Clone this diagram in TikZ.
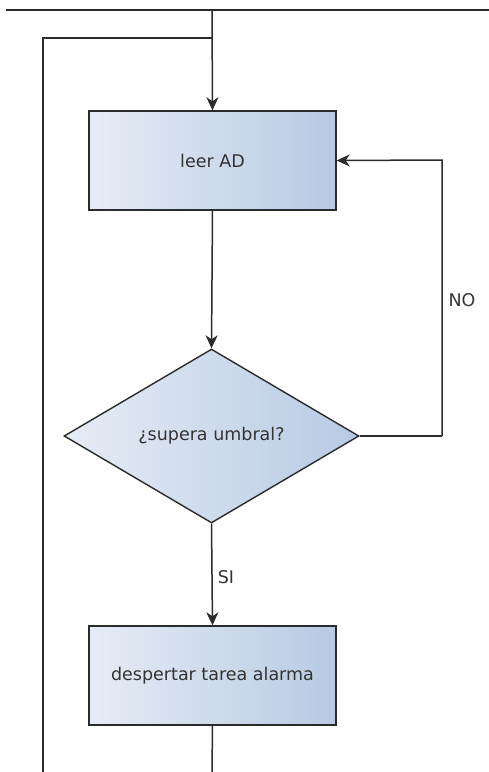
\documentclass[tikz,border=0pt]{standalone}
\usepackage{fontspec}
\setmainfont{DejaVu Sans}
\usetikzlibrary{shapes.geometric,arrows.meta}
\definecolor{lineC}{HTML}{2B2B2B}
\definecolor{fillL}{HTML}{E6ECF5}
\definecolor{fillR}{HTML}{B7CAE3}
\definecolor{txtC}{HTML}{333333}
\begin{document}
\begin{tikzpicture}[x=1pt,y=-1pt,
  conn/.style={draw=lineC,line width=1.5pt},
  arr/.style={conn,-{Stealth[length=13pt,width=12pt,inset=4pt]}},
  procbox/.style={draw=lineC,line width=1.4pt,minimum width=247pt,minimum height=99pt,
     left color=fillL,right color=fillR,inner sep=0pt,text=txtC,font=\fontsize{17.5}{20}\selectfont},
  decision/.style={diamond,draw=lineC,line width=1.4pt,minimum width=295pt,minimum height=174pt,
     inner sep=0pt,left color=fillL,right color=fillR,text=txtC,font=\fontsize{17.5}{20}\selectfont},
  lbl/.style={text=txtC,font=\fontsize{17.5}{20}\selectfont,inner sep=0pt}]
\useasboundingbox (0,0) rectangle (489,772);
\fill[white] (0,0) rectangle (489,772);
\coordinate (tl) at (6,10);
\coordinate (tr) at (489,10);
\coordinate (tm) at (212,10);
\coordinate (jn) at (212,38);
\coordinate (lt) at (43,38);
\coordinate (lb) at (43,772);
\coordinate (rb) at (442,436);
\coordinate (rt) at (442,160);
\coordinate (bb) at (212,772);
\node[procbox] (leer) at (212.5,160.5) {leer AD};
\node[decision,shape aspect=1.7] (dec) at (211.5,436) {¿supera umbral?};
\node[procbox] (desp) at (212.5,675.5) {despertar tarea alarma};
\node[lbl] (no) at (462,300) {NO};
\node[lbl] (si) at (226,577) {SI};
\draw[conn] (tl) -- (tr);
\draw[arr] (tm) -- (leer.north);
\draw[conn] (jn) -- (lt) -- (lb);
\draw[arr] (leer.south) -- (dec.north);
\draw[conn] (dec.east) -- (rb);
\draw[arr] (rb) -- (rt) -- (leer.east);
\draw[arr] (dec.south) -- (desp.north);
\draw[conn] (desp.south) -- (bb);
\end{tikzpicture}
\end{document}
